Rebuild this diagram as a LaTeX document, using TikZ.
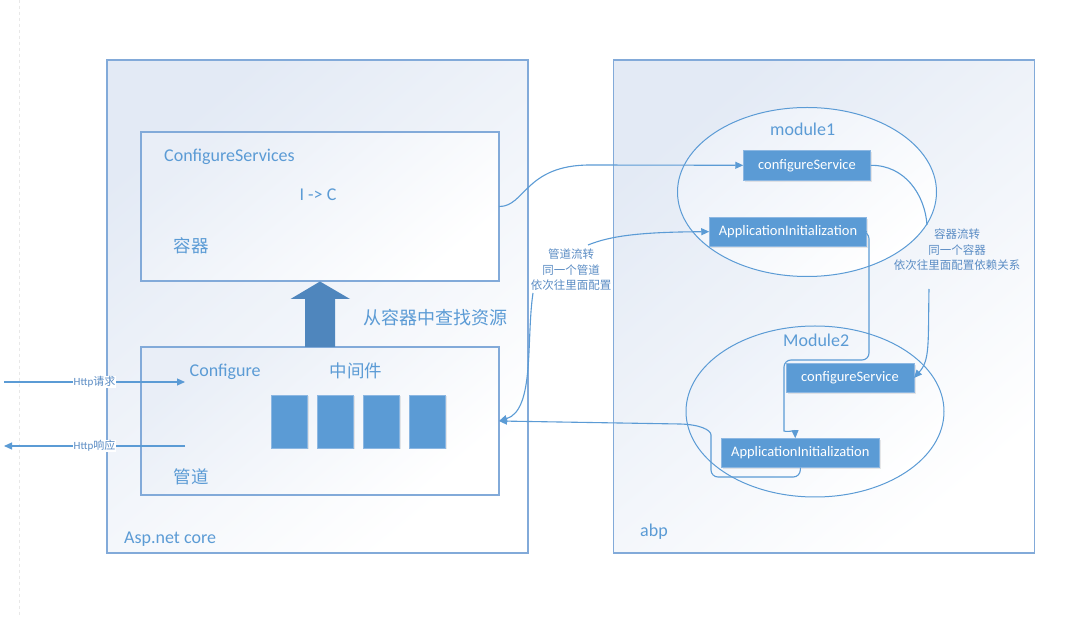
\documentclass[tikz,border=0pt]{standalone}
\usepackage{fontspec}
\setmainfont{Carlito}
\newfontfamily\cjk{Noto Sans CJK SC}
\usetikzlibrary{arrows.meta,shapes.geometric,shadows,calc}
\definecolor{lblue}{HTML}{5B9BD5}
\definecolor{bordblue}{HTML}{82AAD9}
\definecolor{txtblue}{HTML}{5B9BD5}
\definecolor{smalltxt}{HTML}{5A8CC4}
\definecolor{gradA}{HTML}{E3EAF5}
\definecolor{gradE}{HTML}{ECF1F9}
\definecolor{arrowblue}{HTML}{4F86BD}
\definecolor{boxedge}{HTML}{8CB7E2}
\begin{document}
\begin{tikzpicture}[x=1pt,y=-1pt,
  panel/.style={draw=bordblue, line width=1.1pt, top color=gradA, bottom color=white, shading angle=40, inner sep=0pt, outer sep=0pt},
  inbox/.style={draw=bordblue, line width=1.1pt, top color=gradA!80, bottom color=white, shading angle=40, inner sep=0pt, outer sep=0pt},
  modell/.style={ellipse, draw=lblue, line width=1pt, top color=gradE, bottom color=white, shading angle=40, inner sep=0pt, outer sep=0pt},
  bluebox/.style={fill=lblue, draw=boxedge, line width=0.6pt, text=white, inner sep=0pt, outer sep=0pt, font=\fontsize{14.5}{16}\selectfont, drop shadow={opacity=0.18, shadow xshift=1.5pt, shadow yshift=-1.5pt}},
  block/.style={fill=lblue, draw=boxedge, line width=0.5pt, minimum width=36.5pt, minimum height=53pt, inner sep=0pt, drop shadow={opacity=0.18, shadow xshift=1.5pt, shadow yshift=-1.5pt}},
  lbl/.style={text=txtblue, inner sep=0pt, font=\fontsize{18}{20}\selectfont},
  cjklbl/.style={text=txtblue, inner sep=0pt, font=\cjk\fontsize{17.5}{20}\selectfont},
  smalllbl/.style={text=smalltxt, inner sep=0pt, align=center, font=\cjk\fontsize{11.5}{15.5}\selectfont},
  httplbl/.style={text=smalltxt, fill=white, inner sep=0.5pt, font=\fontsize{11}{12}\selectfont},
  conn/.style={draw=lblue, line width=1.1pt},
  arr/.style={conn, -{Triangle[length=8pt,width=7pt]}}
]
\useasboundingbox (0,0) rectangle (1080,617);
\fill[white] (0,0) rectangle (1080,617);
\draw[black!9, dashed, line width=0.6pt] (19,0) -- (19,617);

% panels
\node[panel, minimum width=421pt, minimum height=493pt] (asp) at (317.5,306.5) {};
\node[panel, minimum width=421pt, minimum height=493pt] (abp) at (824,306.5) {};
\node[lbl, anchor=base west] (asplbl) at (124,544) {Asp.net core};
\node[lbl, anchor=base west] (abplbl) at (640,537) {abp};

% container box
\node[inbox, minimum width=358pt, minimum height=149pt] (cs) at (320,206.5) {};
\node[lbl, anchor=base west] (cstitle) at (164,162) {ConfigureServices};
\node[lbl, anchor=base] (ic) at (318,201) {I -> C};
\node[cjklbl] (rq) at (191,246) {容器};

% pipeline box
\node[inbox, minimum width=358pt, minimum height=148pt] (pipe) at (320,421) {};
\node[lbl, anchor=base west] (cfg) at (189.5,377) {Configure};
\node[cjklbl] (mw) at (356,371) {中间件};
\node[cjklbl] (gd) at (191,477) {管道};
\node[block] (b1) at (289,421.5) {};
\node[block] (b2) at (335,421.5) {};
\node[block] (b3) at (381,421.5) {};
\node[block] (b4) at (427,421.5) {};

% big arrow
\fill[arrowblue] (305,347) -- (305,299) -- (290.5,299) -- (320,281.5) -- (350,299) -- (335,299) -- (335,347) -- cycle;
\node[cjklbl, font=\cjk\fontsize{18}{20}\selectfont] (find) at (435,318) {从容器中查找资源};

% modules
\node[modell, minimum width=259pt, minimum height=169pt] (m1) at (807,192) {};
\node[modell, minimum width=258pt, minimum height=171pt] (m2) at (815,411.5) {};
\node[lbl, anchor=base west] (m1lbl) at (770,136) {module1};
\node[lbl, anchor=base west] (m2lbl) at (783,347) {Module2};

\node[bluebox, minimum width=127.5pt, minimum height=29.5pt] (c1) at (807,165.3) {configureService};
\node[bluebox, minimum width=157.5pt, minimum height=29pt] (a1) at (788,231.7) {ApplicationInitialization};
\node[bluebox, minimum width=128pt, minimum height=29.5pt] (c2) at (850,378) {configureService};
\node[bluebox, minimum width=158pt, minimum height=29.5pt] (a2) at (800.3,453) {ApplicationInitialization};

% side labels
\node[smalllbl] (lp) at (571,270) {管道流转\\同一个管道\\依次往里面配置};
\node[smalllbl] (lc) at (957,250) {容器流转\\同一个容器\\依次往里面配置依赖关系};

\coordinate (lpTop) at (588,245);
\coordinate (lpBot) at (533,293);
\coordinate (lcTop) at (927,225);
\coordinate (lcBot) at (929,289);

% connectors
\draw[arr] (cs.east) .. controls (525,207) and (525,165) .. (590,165) -- (c1.west);
\draw[arr] (lpTop) .. controls (610,236) and (640,232) .. (a1.west);
\draw[arr] (lpBot) .. controls (526,340) and (535,410) .. (pipe.east);
\draw[conn] (c1.east) .. controls (905,165) and (925,195) .. (lcTop);
\draw[arr] (lcBot) .. controls (928,345) and (930,360) .. (c2.east);
\draw[arr] [rounded corners=7pt] (a1.east) -| (869,360) -| (784,424) [sharp corners] .. controls (784,432) and (795,431) .. ($(a2.north)+(-5,0)$);
\draw[arr] [rounded corners=7pt] (a2.south) |- (711,477) -- (711,442) [sharp corners] .. controls (711,430) and (700,424.5) .. (680,424) -- (pipe.east);

% http
\coordinate (reqS) at (4,382);
\coordinate (reqE) at (185,382);
\coordinate (resS) at (185,446);
\coordinate (resE) at (4,446);
\draw[arr] (reqS) -- node[httplbl] (hq) {Http{\cjk 请求}} (reqE);
\draw[arr] (resS) -- node[httplbl] (hr) {Http{\cjk 响应}} (resE);
\end{tikzpicture}
\end{document}
